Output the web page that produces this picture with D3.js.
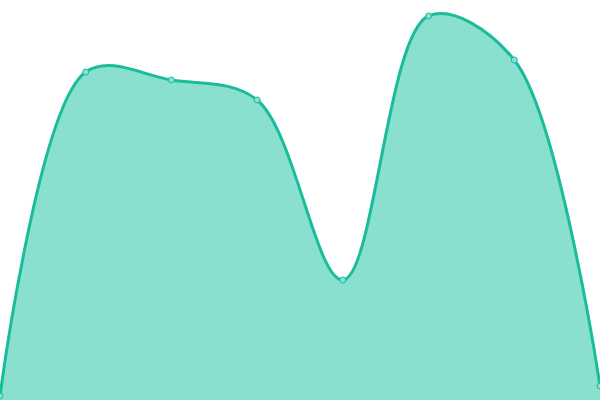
<!DOCTYPE html>
<html><head><meta charset="utf-8">
<script src="https://cdn.jsdelivr.net/npm/d3@7"></script>
<style>html,body{margin:0;padding:0;background:#fff;overflow:hidden}</style>
</head><body>
<svg id="c" width="600" height="400"></svg>
<script>
const categories = ["A","B","C","D","E","F","G","H"];
const values = [1, 82, 80, 75, 30, 96, 85, 3.5];

const W = 600, H = 400;
const svg = d3.select("#c");
const x = d3.scalePoint().domain(categories).range([0, W]);
const y = d3.scaleLinear().domain([0, 100]).range([H, 0]);
const data = categories.map((c, i) => ({c, v: values[i]}));

const curve = d3.curveCatmullRom.alpha(0.5);
svg.append("path").datum(data)
  .attr("d", d3.area().x(d => x(d.c)).y0(y(0)).y1(d => y(d.v)).curve(curve))
  .attr("fill", "rgb(137,224,207)");
svg.append("path").datum(data)
  .attr("d", d3.line().x(d => x(d.c)).y(d => y(d.v)).curve(curve))
  .attr("fill", "none").attr("stroke", "#1abc9c").attr("stroke-width", 3);
svg.selectAll("circle").data(data).join("circle")
  .attr("cx", d => x(d.c)).attr("cy", d => y(d.v)).attr("r", 3)
  .attr("fill", "rgb(137,224,207)").attr("stroke", "#1abc9c").attr("stroke-width", 1);
</script>
</body></html>
